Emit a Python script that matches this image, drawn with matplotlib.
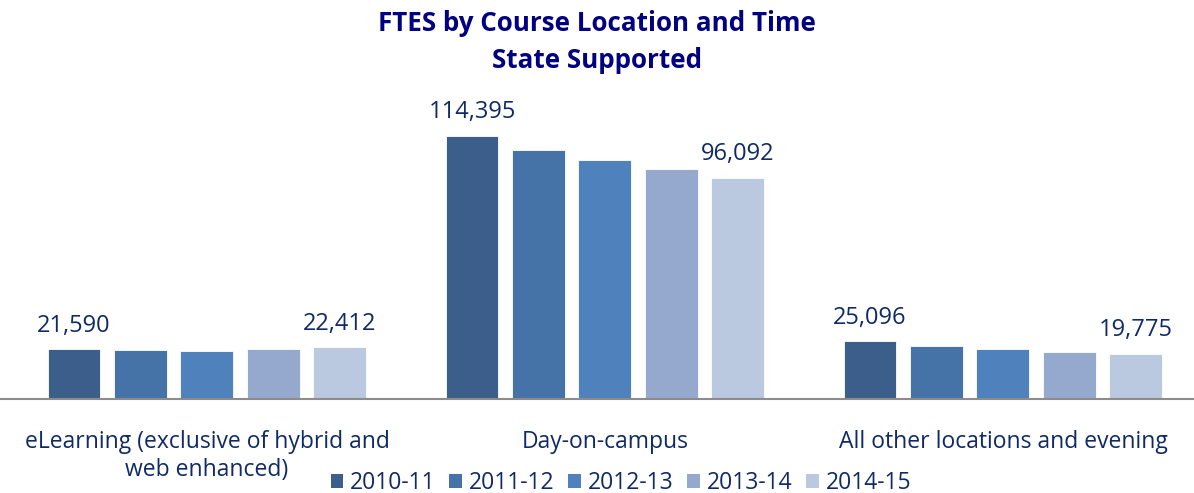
import numpy as np
import matplotlib.pyplot as plt
from matplotlib.patches import Patch

categories = ['eLearning (exclusive of hybrid and\nweb enhanced)', 'Day-on-campus',
              'All other locations and evening']
years = ['2010-11', '2011-12', '2012-13', '2013-14', '2014-15']
# FTES per year, one list per location (first and last are labelled in the source)
elearning = [21590, 21100, 20850, 21650, 22412]
day_campus = [114395, 108300, 103950, 100050, 96092]
other = [25096, 22870, 21730, 20420, 19775]

colors = ['#3B5E8B', '#4573A7', '#4F81BD', '#95A9CF', '#BAC8E0']
text_col = '#0F2A66'
title_col = '#000080'

plt.rcParams['font.family'] = ['Open Sans', 'DejaVu Sans']

fig = plt.figure(figsize=(11.94, 4.93), dpi=100)
ax = fig.add_axes([0, 94 / 493, 1, 299 / 493])

values = np.array([elearning, day_campus, other])
x = np.arange(len(categories))
pitch = 0.167
width = 0.133

for i, year in enumerate(years):
    pos = x + (i - 2) * pitch
    ax.bar(pos, values[:, i], width, color=colors[i], edgecolor='white', linewidth=0.6)
    if i in (0, len(years) - 1):
        for xp, v in zip(pos, values[:, i]):
            ax.text(xp, v + 5000, f'{v:,}', ha='center', va='bottom',
                    fontsize=17, color=text_col)

ax.set_xlim(-0.520, 2.480)
ax.set_ylim(0, 130000)
for s in ['top', 'right', 'left']:
    ax.spines[s].set_visible(False)
ax.spines['bottom'].set_color('#8C8C8C')
ax.spines['bottom'].set_linewidth(1.5)
ax.set_yticks([])
ax.set_xticks(x)
ax.set_xticklabels(categories, fontsize=16.5, color=text_col, linespacing=1.25)
ax.tick_params(axis='x', length=0, pad=22)

fig.text(0.5, 0.953, 'FTES by Course Location and Time', ha='center', va='center',
         fontsize=18.7, fontweight='bold', color=title_col)
fig.text(0.5, 0.878, 'State Supported', ha='center', va='center',
         fontsize=18.7, fontweight='bold', color=title_col)

handles = [Patch(facecolor=c) for c in colors]
fig.legend(handles, years, loc='center', bbox_to_anchor=(0.52, 0.02), ncol=5,
           frameon=False, fontsize=16.5, handlelength=0.55, handleheight=0.55,
           handletextpad=0.3, columnspacing=0.6, labelcolor=text_col,
           borderpad=0)

fig.savefig('out.png', dpi=100)
